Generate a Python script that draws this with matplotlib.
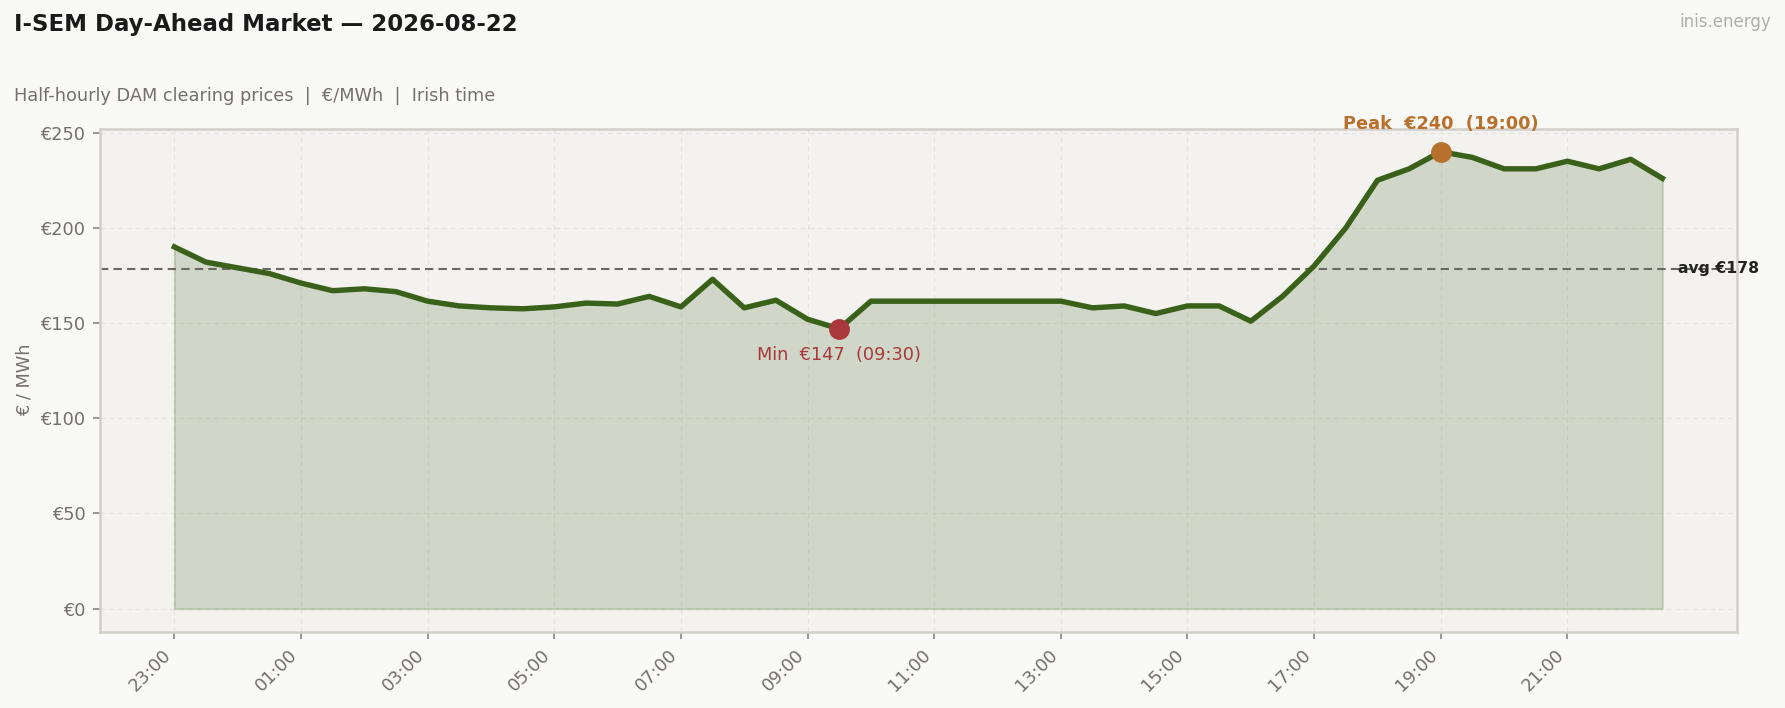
import pandas as pd
import matplotlib.pyplot as plt
import matplotlib.dates as mdates
import numpy as np

# half-hourly DAM prices, 23:00 (previous day) to 22:30 Irish time
start = "2026-08-21 23:00"
prices = [190, 182, 179, 176, 171, 167, 168, 166.5, 161.5, 159,
          158, 157.5, 158.5, 160.5, 160, 164, 158.5, 173, 158, 162,
          152, 147, 161.5, 161.5, 161.5, 161.5, 161.5, 161.5, 161.5, 158,
          159, 155, 159, 159, 151, 164, 180, 200, 225, 231,
          240, 237, 231, 231, 235, 231, 236, 226]
title = "I-SEM Day-Ahead Market \u2014 2026-08-22"
subtitle = "Half-hourly DAM clearing prices  |  \u20ac/MWh  |  Irish time"

times = pd.date_range(start, periods=len(prices), freq="30min")
df = pd.DataFrame({"time": times, "price": prices})

GREEN = "#3a6119"
PEAK = "#b8712c"
MIN = "#a8383b"
GREY = "#75706b"

fig = plt.figure(figsize=(11.9, 4.72), dpi=150, facecolor="#f9f9f7")
ax = fig.add_axes([0.056, 0.108, 0.917, 0.71])
ax.set_facecolor("#f3f2ef")

ax.fill_between(df["time"], 0, df["price"], color=GREEN, alpha=0.18, lw=1)
ax.plot(df["time"], df["price"], color=GREEN, lw=2.6, zorder=3)

avg = df["price"].mean()
ax.axhline(avg, color="#6b6864", lw=1, ls=(0, (4, 2.5)), zorder=2)
ax.text(df["time"].iloc[-1] + pd.Timedelta(minutes=15), avg, f"avg \u20ac{avg:.0f}",
        fontsize=7.5, fontweight="bold", color="#222222", va="center", ha="left")

imax = df["price"].idxmax()
imin = df["price"].idxmin()
tmax, pmax = df["time"][imax], df["price"][imax]
tmin, pmin = df["time"][imin], df["price"][imin]
ax.plot(tmax, pmax, "o", color=PEAK, ms=9, zorder=4)
ax.plot(tmin, pmin, "o", color=MIN, ms=9, zorder=4)
ax.annotate(f"Peak  \u20ac{pmax:.0f}  ({tmax:%H:%M})", (tmax, pmax), xytext=(0, 9),
            textcoords="offset points", ha="center", va="bottom",
            fontsize=8.5, fontweight="bold", color=PEAK)
ax.annotate(f"Min  \u20ac{pmin:.0f}  ({tmin:%H:%M})", (tmin, pmin), xytext=(0, -8.5),
            textcoords="offset points", ha="center", va="top",
            fontsize=8.5, color=MIN)

ax.set_xticks(df["time"][::4])
ax.xaxis.set_major_formatter(mdates.DateFormatter("%H:%M"))
ax.yaxis.set_major_locator(plt.MultipleLocator(50))
ax.yaxis.set_major_formatter(plt.FuncFormatter(lambda v, p: f"\u20ac{v:.0f}"))
plt.setp(ax.get_xticklabels(), rotation=45, ha="right")
ax.tick_params(colors=GREY, labelsize=8.5)
ax.tick_params(axis="both", color="#8a8580")
ax.grid(True, color="#e2e0db", lw=0.6, ls=(0, (4, 3)), alpha=0.8)
ax.set_axisbelow(True)
for s in ax.spines.values():
    s.set_color("#d2cfc9")
    s.set_linewidth(1.2)
ax.set_ylabel("\u20ac / MWh", color=GREY, fontsize=8.5, labelpad=3)

fig.text(0.008, 0.965, title, fontsize=11, fontweight="bold", color="#1a1a1a", va="center")
fig.text(0.008, 0.865, subtitle, fontsize=8.5, color=GREY, va="center")
fig.text(0.992, 0.969, "inis.energy", fontsize=8, color="#b0aeab", ha="right", va="center")

fig.savefig("out.png", dpi=150, facecolor=fig.get_facecolor())
